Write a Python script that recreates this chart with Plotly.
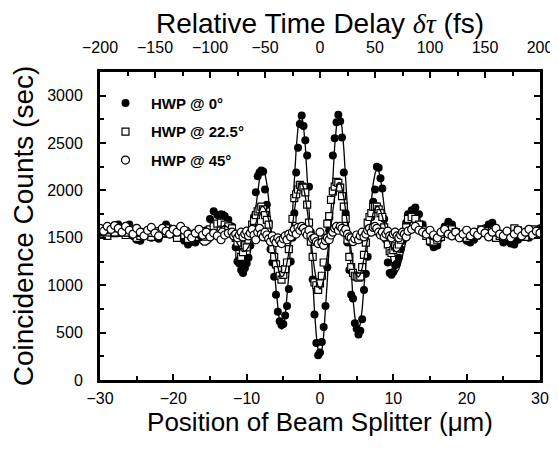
import plotly.graph_objects as go

# beam splitter position (um); 0.5 um steps in the wings, 0.25 um in the centre
X_UM = [
    -30.0, -29.5, -29.0, -28.5, -28.0, -27.5, -27.0, -26.5, -26.0, -25.5, -25.0, -24.5,
    -24.0, -23.5, -23.0, -22.5, -22.0, -21.5, -21.0, -20.5, -20.0, -19.5, -19.0, -18.5,
    -18.0, -17.5, -17.0, -16.5, -16.0, -15.5, -15.0, -14.5, -14.0, -13.5, -13.0, -12.5,
    -12.0, -11.75, -11.5, -11.25, -11.0, -10.75, -10.5, -10.25, -10.0, -9.75, -9.5, -9.25,
    -9.0, -8.75, -8.5, -8.25, -8.0, -7.75, -7.5, -7.25, -7.0, -6.75, -6.5, -6.25,
    -6.0, -5.75, -5.5, -5.25, -5.0, -4.75, -4.5, -4.25, -4.0, -3.75, -3.5, -3.25,
    -3.0, -2.75, -2.5, -2.25, -2.0, -1.75, -1.5, -1.25, -1.0, -0.75, -0.5, -0.25,
    0.0, 0.25, 0.5, 0.75, 1.0, 1.25, 1.5, 1.75, 2.0, 2.25, 2.5, 2.75,
    3.0, 3.25, 3.5, 3.75, 4.0, 4.25, 4.5, 4.75, 5.0, 5.25, 5.5, 5.75,
    6.0, 6.25, 6.5, 6.75, 7.0, 7.25, 7.5, 7.75, 8.0, 8.25, 8.5, 8.75,
    9.0, 9.25, 9.5, 9.75, 10.0, 10.25, 10.5, 10.75, 11.0, 11.25, 11.5, 11.75, 12.0,
    12.5, 13.0, 13.5, 14.0, 14.5, 15.0, 15.5, 16.0, 16.5, 17.0, 17.5, 18.0,
    18.5, 19.0, 19.5, 20.0, 20.5, 21.0, 21.5, 22.0, 22.5, 23.0, 23.5, 24.0,
    24.5, 25.0, 25.5, 26.0, 26.5, 27.0, 27.5, 28.0, 28.5, 29.0, 29.5, 30.0,
]

# coincidence counts, HWP @ 0 deg (filled circles)
HWP_0 = [
    1560, 1590, 1540, 1610, 1570, 1640, 1600, 1560, 1640, 1520, 1480, 1470,
    1530, 1560, 1500, 1540, 1490, 1580, 1640, 1600, 1560, 1510, 1530, 1470,
    1430, 1460, 1450, 1500, 1530, 1580, 1700, 1780, 1740, 1750, 1730, 1690,
    1620, 1530, 1400, 1250, 1230, 1160, 1130, 1180, 1230, 1290, 1420, 1590,
    1720, 1980, 2150, 2190, 2210, 2200, 2010, 1850, 1660, 1380, 1240, 1090,
    900, 720, 620, 580, 590, 680, 780, 960, 1250, 1500, 1760, 2190,
    2450, 2700, 2790, 2680, 2530, 2370, 2040, 1560, 1060, 690, 390, 260,
    290, 400, 560, 780, 1190, 1580, 1900, 2370, 2550, 2720, 2800, 2730,
    2560, 2190, 1760, 1450, 1160, 900, 860, 600, 540, 480, 520, 640,
    950, 1120, 1300, 1590, 1720, 1880, 2010, 2250, 2240, 2130, 2020, 1700,
    1480, 1240, 1130, 1110, 1140, 1210, 1230, 1290, 1380, 1470, 1560, 1660, 1750,
    1790, 1820, 1750, 1640, 1560, 1450, 1400, 1420, 1500, 1620, 1670, 1640,
    1570, 1530, 1500, 1470, 1450, 1480, 1520, 1560, 1600, 1640, 1660, 1600,
    1500, 1450, 1470, 1440, 1430, 1480, 1520, 1540, 1500, 1530, 1560, 1600,
]

# HWP @ 22.5 deg (open squares)
HWP_22 = [
    1540, 1560, 1520, 1580, 1550, 1600, 1570, 1530, 1590, 1560, 1500, 1520,
    1560, 1540, 1510, 1570, 1530, 1550, 1600, 1570, 1540, 1500, 1560, 1530,
    1490, 1520, 1510, 1550, 1570, 1540, 1590, 1620, 1650, 1660, 1640, 1620,
    1600, 1540, 1500, 1450, 1330, 1300, 1350, 1420, 1400, 1480, 1560, 1640,
    1680, 1740, 1780, 1800, 1830, 1800, 1740, 1690, 1640, 1500, 1380, 1300,
    1220, 1160, 1100, 1060, 1110, 1170, 1240, 1380, 1520, 1700, 1920, 1960,
    2010, 2060, 2040, 2030, 1980, 1850, 1660, 1460, 1300, 1030, 1000, 950,
    1020, 1100, 1240, 1500, 1650, 1730, 1900, 1990, 2040, 2090, 2080, 2030,
    1940, 1830, 1700, 1480, 1300, 1190, 1130, 1100, 1090, 1080, 1090, 1190,
    1320, 1450, 1660, 1720, 1760, 1830, 1830, 1830, 1800, 1760, 1720, 1610,
    1520, 1430, 1360, 1340, 1370, 1410, 1390, 1430, 1480, 1520, 1560, 1610, 1700,
    1720, 1700, 1640, 1580, 1520, 1470, 1460, 1480, 1510, 1570, 1600, 1590,
    1560, 1530, 1510, 1500, 1520, 1540, 1560, 1590, 1570, 1550, 1520, 1500,
    1520, 1540, 1510, 1560, 1600, 1580, 1540, 1510, 1560, 1590, 1560, 1530,
]

# HWP @ 45 deg (open circles)
HWP_45 = [
    1600, 1570, 1620, 1590, 1630, 1600, 1560, 1620, 1580, 1540, 1600, 1560,
    1520, 1580, 1610, 1550, 1520, 1600, 1570, 1540, 1590, 1560, 1620, 1580,
    1540, 1500, 1550, 1590, 1530, 1560, 1510, 1550, 1520, 1480, 1530, 1550,
    1560, 1520, 1540, 1500, 1530, 1560, 1510, 1540, 1570, 1520, 1550, 1590,
    1530, 1480, 1560, 1600, 1540, 1510, 1560, 1530, 1490, 1460, 1520, 1480,
    1450, 1500, 1470, 1440, 1490, 1520, 1480, 1540, 1510, 1560, 1590, 1540,
    1610, 1580, 1620, 1600, 1560, 1530, 1580, 1520, 1490, 1500, 1460, 1440,
    1560, 1450, 1420, 1470, 1500, 1480, 1530, 1560, 1600, 1620, 1580, 1620,
    1600, 1560, 1590, 1540, 1510, 1500, 1460, 1490, 1530, 1480, 1520, 1560,
    1510, 1540, 1580, 1600, 1560, 1610, 1620, 1600, 1560, 1530, 1560, 1510,
    1540, 1570, 1520, 1500, 1540, 1560, 1520, 1500, 1530, 1560, 1540, 1510, 1570,
    1590, 1620, 1580, 1560, 1540, 1580, 1530, 1500, 1560, 1590, 1540, 1520,
    1560, 1500, 1540, 1580, 1520, 1560, 1530, 1580, 1550, 1510, 1560, 1600,
    1540, 1520, 1570, 1500, 1540, 1580, 1520, 1560, 1590, 1530, 1570, 1550,
]

# fitted curves
FIT_0 = [
    1520, 1520, 1520, 1520, 1520, 1520, 1520, 1520, 1520, 1520, 1520, 1520,
    1520, 1520, 1520, 1520, 1517, 1510, 1506, 1503, 1509, 1531, 1571, 1609,
    1610, 1570, 1513, 1458, 1424, 1424, 1451, 1510, 1610, 1727, 1777, 1714,
    1582, 1498, 1407, 1314, 1231, 1171, 1140, 1147, 1190, 1249, 1348, 1481,
    1645, 1820, 1989, 2124, 2212, 2227, 2178, 2070, 1905, 1698, 1458, 1204,
    959, 748, 593, 535, 564, 665, 853, 1113, 1433, 1787, 2135, 2438,
    2664, 2791, 2796, 2682, 2466, 2164, 1807, 1424, 1053, 724, 467, 304,
    250, 304, 467, 724, 1053, 1424, 1807, 2164, 2466, 2682, 2796, 2791,
    2664, 2438, 2135, 1787, 1433, 1113, 853, 665, 564, 535, 593, 748,
    959, 1204, 1458, 1698, 1905, 2070, 2178, 2227, 2212, 2124, 1989, 1820,
    1645, 1481, 1348, 1249, 1190, 1147, 1140, 1171, 1231, 1314, 1407, 1498, 1582,
    1714, 1777, 1727, 1610, 1510, 1451, 1424, 1424, 1458, 1513, 1570, 1610,
    1609, 1571, 1531, 1509, 1503, 1506, 1510, 1517, 1520, 1520, 1520, 1520,
    1520, 1520, 1520, 1520, 1520, 1520, 1520, 1520, 1520, 1520, 1520, 1520,
]

FIT_22 = [
    1520, 1520, 1520, 1520, 1520, 1520, 1520, 1520, 1520, 1520, 1520, 1520,
    1520, 1520, 1520, 1520, 1518, 1516, 1514, 1512, 1515, 1524, 1542, 1560,
    1561, 1542, 1517, 1492, 1477, 1477, 1489, 1515, 1560, 1610, 1634, 1604,
    1548, 1510, 1471, 1430, 1392, 1367, 1355, 1357, 1375, 1402, 1445, 1503,
    1575, 1652, 1725, 1786, 1827, 1832, 1808, 1762, 1690, 1598, 1493, 1381,
    1274, 1181, 1114, 1087, 1099, 1144, 1227, 1341, 1482, 1638, 1790, 1924,
    2025, 2080, 2082, 2032, 1936, 1804, 1646, 1478, 1314, 1169, 1056, 984,
    960, 984, 1056, 1169, 1314, 1478, 1646, 1804, 1936, 2032, 2082, 2080,
    2025, 1924, 1790, 1638, 1482, 1341, 1227, 1144, 1099, 1087, 1114, 1181,
    1274, 1381, 1493, 1598, 1690, 1762, 1808, 1832, 1827, 1786, 1725, 1652,
    1575, 1503, 1445, 1402, 1375, 1357, 1355, 1367, 1392, 1430, 1471, 1510, 1548,
    1604, 1634, 1610, 1560, 1515, 1489, 1477, 1477, 1492, 1517, 1542, 1561,
    1560, 1542, 1524, 1515, 1512, 1514, 1516, 1518, 1520, 1520, 1520, 1520,
    1520, 1520, 1520, 1520, 1520, 1520, 1520, 1520, 1520, 1520, 1520, 1520,
]

for arr in (HWP_0, HWP_22, HWP_45, FIT_0, FIT_22):
    assert len(arr) == len(X_UM), len(arr)

FONT = "Liberation Sans, Arial, Helvetica, sans-serif"

fig = go.Figure()

fig.add_trace(go.Scatter(
    x=X_UM, y=HWP_0, mode="markers", name="<b>HWP @ 0°</b>", legendgroup="a",
    marker=dict(symbol="circle", size=8, color="black", line=dict(width=0)),
))
fig.add_trace(go.Scatter(
    x=X_UM, y=FIT_0, mode="lines", showlegend=False,
    line=dict(color="black", width=1.3),
))
fig.add_trace(go.Scatter(
    x=X_UM, y=HWP_22, mode="markers", name="<b>HWP @ 22.5°</b>", legendgroup="b",
    marker=dict(symbol="square", size=7, color="white", line=dict(color="black", width=1.2)),
))
fig.add_trace(go.Scatter(
    x=X_UM, y=FIT_22, mode="lines", showlegend=False,
    line=dict(color="black", width=1.3),
))
fig.add_trace(go.Scatter(
    x=X_UM, y=HWP_45, mode="markers", name="<b>HWP @ 45°</b>", legendgroup="c",
    marker=dict(symbol="circle", size=8, color="white", line=dict(color="black", width=1.2)),
))

axis_common = dict(
    showline=True, linewidth=3, linecolor="black", showgrid=False, zeroline=False,
    ticks="inside", ticklen=6, tickwidth=2, tickcolor="black", automargin=False,
    tickfont=dict(family=FONT, size=16, color="black"),
)

# the page body adds an 8 px offset, so the figure is 8 px smaller on the left/top
fig.update_layout(
    width=550, height=443,
    margin=dict(l=92, r=18, t=64, b=71),
    plot_bgcolor="white", paper_bgcolor="white",
    font=dict(family=FONT, color="black"),
    xaxis=dict(
        range=[-30, 30], dtick=10, tick0=0, ticklabelstandoff=2,
        minor=dict(dtick=5, ticks="inside", ticklen=4, tickwidth=2, tickcolor="black"),
        title=dict(text="Position of Beam Splitter (μm)",
                   font=dict(family=FONT, size=26, color="black"), standoff=0),
        **axis_common,
    ),
    xaxis2=dict(
        range=[-200, 200], dtick=50, tick0=0, overlaying="x", side="top", ticklabelstandoff=10,
        minor=dict(dtick=25, ticks="inside", ticklen=4, tickwidth=2, tickcolor="black"),
        title=dict(
            text="Relative Time Delay <span style='font-family:Liberation Serif'><i>δτ</i></span> (fs)",
            font=dict(family=FONT, size=28, color="black"), standoff=8,
        ),
        **axis_common,
    ),
    yaxis=dict(
        range=[0, 3250], dtick=500, tick0=0, mirror="ticks", ticklabelstandoff=11,
        minor=dict(dtick=250, ticks="inside", ticklen=4, tickwidth=2, tickcolor="black"),
        title=dict(text="Coincidence Counts (sec)",
                   font=dict(family=FONT, size=28, color="black"), standoff=9),
        **axis_common,
    ),
    legend=dict(
        x=0.0, y=0.952, xanchor="left", yanchor="top", itemwidth=41,
        bgcolor="rgba(0,0,0,0)", tracegroupgap=6,
        font=dict(family=FONT, size=15, color="black"),
    ),
    showlegend=True,
)

# invisible trace so the top (fs) axis is drawn
fig.add_trace(go.Scatter(x=[None], y=[None], xaxis="x2", showlegend=False, hoverinfo="skip"))

fig.write_html("out.html")
